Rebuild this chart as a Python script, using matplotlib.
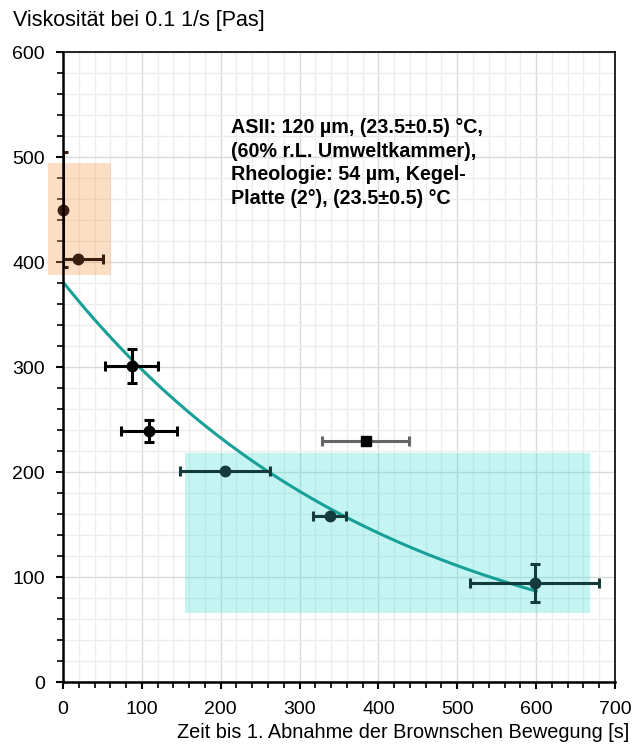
import matplotlib
matplotlib.use("Agg")
import matplotlib.pyplot as plt
import numpy as np
from matplotlib.patches import Rectangle
from matplotlib.ticker import MultipleLocator

plt.rcParams['font.family'] = ['Liberation Sans', 'DejaVu Sans']

# --- data ---
x_brown = [0, 19]
y_brown = [450, 403]
xerr_brown = [0, 32]
yerr_brown = [55, 0]

x_black = [87, 109]
y_black = [301, 239]
xerr_black = [34, 35]
yerr_black = [16, 10.5]

x_teal = [205, 338, 598]
y_teal = [201, 158, 94]
xerr_teal = [57, 21.5, 82]
yerr_teal = [0, 0, 18]

x_grey = [384]
y_grey = [229.5]
xerr_grey = [55]

# exponential fit parameters: y = A * exp(-x / tau), x in [0, 600]
fit_A = 381
fit_tau = 405
fit_xmax = 600

# highlighted regions (x0, x1, y0, y1)
region_orange = (-19, 61, 388, 494)
region_cyan = (155, 669, 66, 218)

fig = plt.figure(figsize=(6.32, 7.44), dpi=100)
ax = fig.add_axes([0.0997, 0.0833, 0.8733, 0.8467])

ax.set_xlim(0, 700)
ax.set_ylim(0, 600)
ax.xaxis.set_major_locator(MultipleLocator(100))
ax.xaxis.set_minor_locator(MultipleLocator(20))
ax.yaxis.set_major_locator(MultipleLocator(100))
ax.yaxis.set_minor_locator(MultipleLocator(20))
ax.grid(which='major', color='#d9d9d9', lw=1.0, zorder=0)
ax.grid(which='minor', color='#ededed', lw=1.0, zorder=0)
ax.set_axisbelow(True)

for (x0, x1, y0, y1), c, a in [(region_orange, '#F7A15A', 0.35), (region_cyan, '#40E0D8', 0.3)]:
    ax.add_patch(Rectangle((x0, y0), x1 - x0, y1 - y0, facecolor=c, alpha=a,
                           edgecolor='none', zorder=1, clip_on=False))

xf = np.linspace(0, fit_xmax, 200)
ax.plot(xf, fit_A * np.exp(-xf / fit_tau), color='#17A098', lw=2.2, zorder=3)

ekw = dict(fmt='none', elinewidth=2.2, capsize=3.5, capthick=2.2, zorder=4)
mkw = dict(ls='none', marker='o', ms=7.5, zorder=5, clip_on=False)
for xs, ys, xe, ye, col in [(x_brown, y_brown, xerr_brown, yerr_brown, '#3B1F0E'),
                            (x_black, y_black, xerr_black, yerr_black, 'black'),
                            (x_teal, y_teal, xerr_teal, yerr_teal, '#133B3B')]:
    ax.errorbar(xs, ys, xerr=xe, yerr=ye, ecolor=col, **ekw)
    ax.plot(xs, ys, color=col, **mkw)

ax.errorbar(x_grey, y_grey, xerr=xerr_grey, fmt='none',
            ecolor='#666666', elinewidth=2.2, capsize=3.5, capthick=2.2, zorder=4)
ax.plot(x_grey, y_grey, ls='none', marker='s', ms=7, color='black', zorder=5)

for s in ['left', 'bottom', 'right', 'top']:
    ax.spines[s].set_color('black')
    ax.spines[s].set_zorder(6)
ax.spines['left'].set_linewidth(1.8)
ax.spines['bottom'].set_linewidth(1.8)
ax.spines['right'].set_linewidth(1.2)
ax.spines['top'].set_linewidth(1.2)

ax.tick_params(which='major', direction='out', length=5, width=1.5, labelsize=14)
ax.tick_params(axis='y', which='major', pad=8)
ax.tick_params(axis='x', which='major', pad=9)
ax.tick_params(which='minor', direction='out', length=4, width=1.2)

ax.text(213, 537, "ASII: 120 µm, (23.5±0.5) °C,\n(60% r.L. Umweltkammer),\nRheologie: 54 µm, Kegel-\nPlatte (2°), (23.5±0.5) °C",
        fontsize=14.2, fontweight='bold', va='top', ha='left', linespacing=1.3, zorder=5)

fig.text(0.021, 0.973, "Viskosität bei 0.1 1/s [Pas]", fontsize=15.5, ha='left', va='center')
fig.text(0.995, 0.016, "Zeit bis 1. Abnahme der Brownschen Bewegung [s]", fontsize=14.3,
         ha='right', va='center')

fig.savefig("out.png", dpi=100)
